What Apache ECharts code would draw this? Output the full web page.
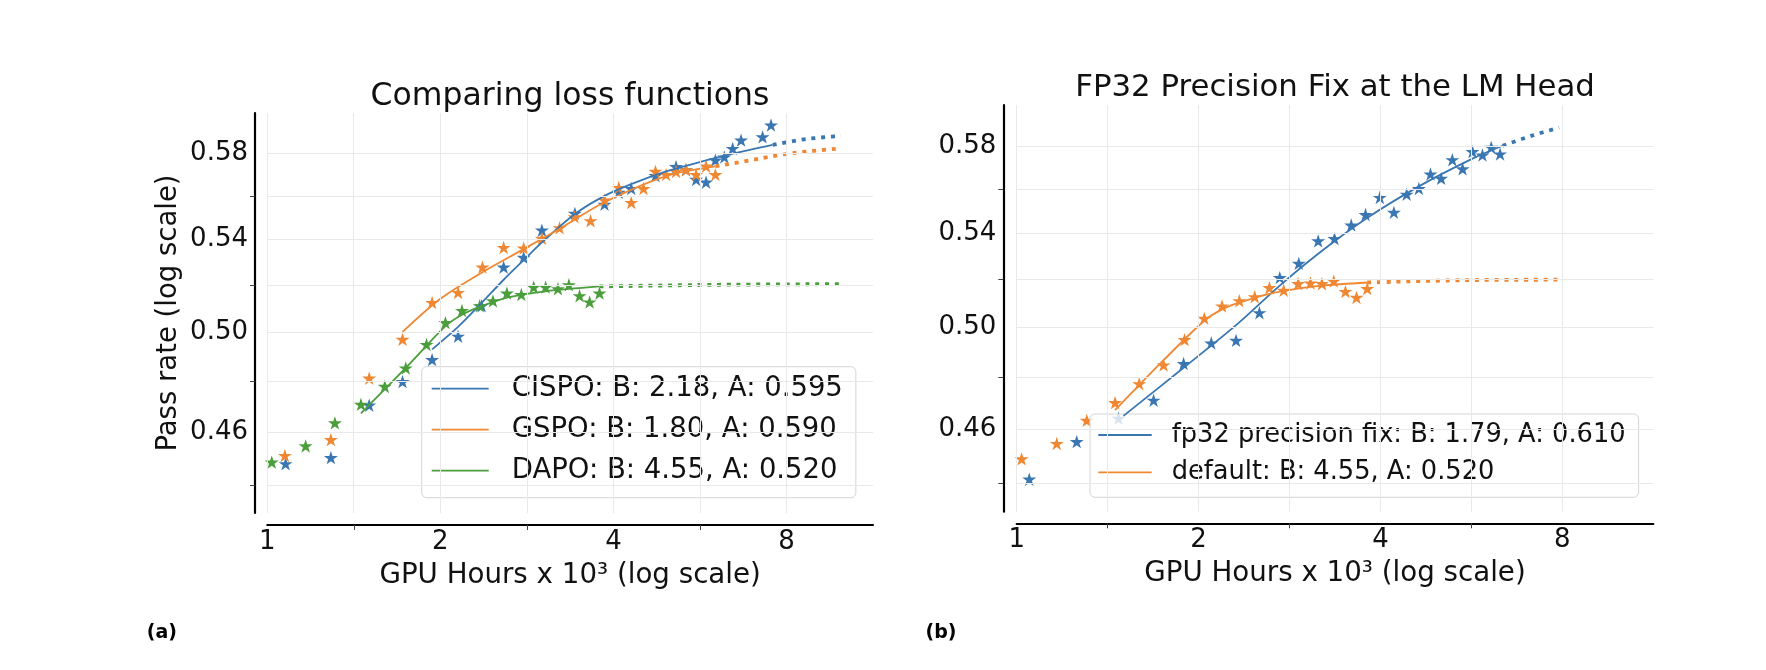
<!DOCTYPE html>
<html>
<head>
<meta charset="utf-8">
<script src="https://cdn.jsdelivr.net/npm/echarts@6/dist/echarts.min.js"></script>
<style>
  html, body { margin: 0; padding: 0; background: #ffffff; }
  #main { width: 1766px; height: 670px; }
</style>
</head>
<body>
<div id="main"></div>
<script>
// ---------------- data ----------------
// Panel (a): Comparing loss functions  — [GPU hours x 1e3, pass rate]
const cispoPoints = [[1.076,0.448],[1.290,0.4503],[1.504,0.4704],[1.719,0.4797],[1.935,0.4886],[2.147,0.4982],[2.359,0.5110],[2.577,0.5277],[2.792,0.5320],[3.004,0.5442],[3.428,0.5519],[3.86,0.5561],[4.087,0.5616],[4.296,0.5634],[4.734,0.5695],[5.14,0.5738],[5.35,0.5723],[5.571,0.5677],[5.797,0.5664],[6.018,0.5769],[6.237,0.5784],[6.449,0.5825],[6.67,0.5866],[7.27,0.5882],[7.52,0.594]];
const gspoPoints = [[1.073,0.4511],[1.290,0.4571],[1.504,0.4811],[1.719,0.4969],[1.935,0.5124],[2.147,0.5167],[2.367,0.5277],[2.577,0.5364],[2.792,0.5362],[3.004,0.5405],[3.224,0.5453],[3.424,0.5503],[3.65,0.5485],[3.86,0.558],[4.087,0.5639],[4.296,0.5569],[4.512,0.5634],[4.734,0.5715],[4.94,0.570],[5.14,0.5715],[5.35,0.5723],[5.571,0.570],[5.797,0.574],[6.018,0.570]];
const dapoPoints = [[1.018,0.4486],[1.166,0.4547],[1.311,0.4635],[1.455,0.4707],[1.601,0.4778],[1.741,0.4852],[1.892,0.4948],[2.041,0.5039],[2.181,0.509],[2.341,0.511],[2.469,0.5131],[2.611,0.5164],[2.766,0.5158],[2.906,0.519],[3.049,0.519],[3.203,0.5183],[3.347,0.520],[3.493,0.5153],[3.636,0.5126],[3.783,0.5164]];

const cispoFit = [[1.935,0.4928],[2.147,0.5021],[2.359,0.5122],[2.577,0.5222],[2.792,0.5308],[3.004,0.5387],[3.424,0.5515],[3.86,0.5600],[4.295,0.5655],[4.94,0.5715],[5.571,0.5755],[6.45,0.5800],[7.57,0.5843]];
const cispoExt = [[7.57,0.5843],[8.65,0.5871],[9.95,0.5887]];
const gspoFit = [[1.719,0.5000],[2.0,0.5140],[2.367,0.5255],[2.792,0.5357],[3.224,0.5449],[3.86,0.5570],[4.94,0.5693],[6.018,0.5739]];
const gspoExt = [[6.018,0.5739],[7.18,0.5776],[8.2,0.5803],[9.95,0.5826]];
const dapoFit = [[1.455,0.4672],[1.741,0.4852],[2.041,0.5024],[2.181,0.5072],[2.341,0.5105],[2.611,0.5145],[3.049,0.5172],[3.783,0.5193]];
const dapoExt = [[3.783,0.5193],[6.0,0.5200],[9.95,0.5203]];

// Panel (b): FP32 precision fix at the LM head
const fp32Points = [[1.049,0.4416],[1.257,0.4554],[1.474,0.4642],[1.685,0.4711],[1.889,0.4855],[2.099,0.4937],[2.307,0.4948],[2.522,0.5061],[2.725,0.5209],[2.93,0.527],[3.155,0.5368],[3.357,0.5378],[3.578,0.5438],[3.779,0.5485],[3.99,0.5562],[4.21,0.5495],[4.42,0.5577],[4.63,0.5603],[4.84,0.567],[5.04,0.565],[5.26,0.5737],[5.47,0.5694],[5.68,0.5775],[5.9,0.5759],[6.1,0.5795],[6.31,0.5764]];
const defaultPoints = [[1.019,0.449],[1.165,0.4547],[1.306,0.4634],[1.455,0.4702],[1.595,0.4775],[1.75,0.4849],[1.896,0.4951],[2.044,0.5038],[2.187,0.5089],[2.336,0.5111],[2.477,0.5128],[2.62,0.5166],[2.766,0.5155],[2.923,0.5183],[3.063,0.5186],[3.2,0.5183],[3.348,0.5194],[3.5,0.515],[3.651,0.5125],[3.803,0.5162]];

const fp32Fit = [[1.502,0.4651],[1.889,0.4838],[2.307,0.5010],[2.725,0.5175],[3.155,0.5312],[3.779,0.5465],[4.63,0.5613],[5.68,0.5742],[6.37,0.5803]];
const fp32Ext = [[6.37,0.5803],[7.1,0.5850],[7.9,0.5890]];
const defaultFit = [[1.455,0.4673],[1.75,0.4868],[2.044,0.5028],[2.187,0.5075],[2.336,0.5103],[2.62,0.5140],[2.923,0.5162],[3.2,0.5175],[3.803,0.5188]];
const defaultExt = [[3.803,0.5188],[5.5,0.5198],[7.85,0.5200]];

// legend labels
const namesA = ['CISPO: B: 2.18, A: 0.595', 'GSPO: B: 1.80, A: 0.590', 'DAPO: B: 4.55, A: 0.520'];
const namesB = ['fp32 precision fix: B: 1.79, A: 0.610', 'default: B: 4.55, A: 0.520'];

// axes ticks
const yTickValues = [0.46, 0.50, 0.54, 0.58];
const yMinorValues = [0.44, 0.48, 0.52, 0.56];
const yGridValues = [0.44, 0.46, 0.48, 0.50, 0.52, 0.54, 0.56, 0.58];
const xMinorValues = [1.4142, 2.8284, 5.6569];
const xGridValues = [1, 1.4142, 2, 2.8284, 4, 5.6569, 8];

const titles = ['Comparing loss functions', 'FP32 Precision Fix at the LM Head'];

// ---------------- styling ----------------
const BLUE = '#3a77b2', ORANGE = '#ef8733', GREEN = '#4b9e3c';
const FONT = 'DejaVu Sans';
const STAR = 'path://M0,-10L2.245,-3.09L9.511,-3.09L3.633,1.18L5.878,8.09L0,3.82L-5.878,8.09L-3.633,1.18L-9.511,-3.09L-2.245,-3.09Z';

function starSeries(name, pts, color, gi) {
  return { type: 'scatter', name: name, xAxisIndex: gi, yAxisIndex: gi, data: pts,
    symbol: STAR, symbolSize: [14, 13.4], itemStyle: { color: color, opacity: 1 }, z: 3, silent: true };
}
function fitSeries(name, pts, color, gi) {
  return { type: 'line', name: name, xAxisIndex: gi, yAxisIndex: gi, data: pts,
    symbol: 'none', smooth: 0.3, lineStyle: { color: color, width: 1.8 }, itemStyle: { color: color }, z: 4, silent: true };
}
function extSeries(name, pts, color, gi) {
  return { type: 'line', name: name, xAxisIndex: gi, yAxisIndex: gi, data: pts,
    symbol: 'none', smooth: 0.3, lineStyle: { color: color, width: 3.8, type: [4, 5.8], cap: 'butt' }, itemStyle: { color: color }, z: 4, silent: true };
}
function gridHelper(gi) {
  const lines = yGridValues.map(v => ({ yAxis: v })).concat(xGridValues.map(v => ({ xAxis: v })));
  return { type: 'line', name: 'grid' + gi, xAxisIndex: gi, yAxisIndex: gi, data: [], z: 1, silent: true,
    markLine: { silent: true, symbol: ['none', 'none'], label: { show: false }, animation: false,
      lineStyle: { color: '#e9e9e9', width: 1, type: 'solid' }, emphasis: { disabled: true }, data: lines } };
}

const grids = [
  { left: 267.3, top: 113, width: 605.7, height: 400 },
  { left: 1016.7, top: 105, width: 636.6, height: 406.7 }
];

function xAxisFor(gi, offset) {
  return { type: 'log', logBase: 2, gridIndex: gi, min: 1, max: 11.3137, offset: offset,
    axisLine: { show: true, lineStyle: { color: '#000', width: 2.2 } },
    axisTick: { show: true, customValues: xMinorValues, length: 5, lineStyle: { color: '#444', width: 1 } },
    axisLabel: { fontSize: 26, color: '#111', fontFamily: FONT, margin: 4, showMaxLabel: false,
      formatter: v => String(Math.round(v)) },
    splitLine: { show: false }, minorTick: { show: false },
    name: 'GPU Hours x 10³ (log scale)', nameLocation: 'middle', nameGap: 37,
    nameTextStyle: { fontSize: 27.7, color: '#111', fontFamily: FONT } };
}
function yAxisFor(gi, offset, withName) {
  const ax = { type: 'log', logBase: 10, gridIndex: gi, min: 0.43, max: 0.60, offset: offset,
    axisLine: { show: true, lineStyle: { color: '#000', width: 2.2 } },
    axisTick: { show: true, customValues: yMinorValues, length: 5, lineStyle: { color: '#444', width: 1 } },
    axisLabel: { customValues: yTickValues, fontSize: 26, color: '#111', fontFamily: FONT, margin: 7,
      formatter: v => Number(v).toFixed(2) },
    splitLine: { show: false } };
  if (withName) {
    ax.name = 'Pass rate (log scale)';
    ax.nameLocation = 'middle';
    ax.nameGap = 72;
    ax.nameRotate = 90;
    ax.nameTextStyle = { fontSize: 27.5, color: '#111', fontFamily: FONT };
  }
  return ax;
}

const option = {
  backgroundColor: '#ffffff',
  animation: false,
  textStyle: { fontFamily: FONT },
  grid: grids,
  xAxis: [xAxisFor(0, 12), xAxisFor(1, 11.6)],
  yAxis: [yAxisFor(0, 12.3, true), yAxisFor(1, 13.4, false)],
  legend: [
    { data: namesA, orient: 'vertical', left: 421.7, top: 366.7, icon: 'rect',
      backgroundColor: 'rgba(255,255,255,0.8)', borderColor: '#d4d4d4', borderWidth: 1, borderRadius: 5,
      padding: [7, 13, 12, 10], itemWidth: 57, itemHeight: 1.8, itemGap: 11, selectedMode: false,
      textStyle: { fontSize: 27.5, lineHeight: 30, color: '#111', fontFamily: FONT, padding: [0, 0, 0, 18] } },
    { data: namesB, orient: 'vertical', left: 1090, top: 414, icon: 'rect',
      backgroundColor: 'rgba(255,255,255,0.8)', borderColor: '#d4d4d4', borderWidth: 1, borderRadius: 5,
      padding: [7, 13, 11, 8.3], itemWidth: 53.4, itemHeight: 1.8, itemGap: 9.3, selectedMode: false,
      textStyle: { fontSize: 25.7, lineHeight: 28, color: '#111', fontFamily: FONT, padding: [0, 0, 0, 15] } }
  ],
  graphic: [
    { type: 'text', x: 570, y: 97, silent: true, style: { text: titles[0], fill: '#111', font: '31.5px "DejaVu Sans"', align: 'center', verticalAlign: 'middle' } },
    { type: 'text', x: 1335, y: 87.8, silent: true, style: { text: titles[1], fill: '#111', font: '30.8px "DejaVu Sans"', align: 'center', verticalAlign: 'middle' } },
    { type: 'text', x: 146.7, y: 633.5, silent: true, style: { text: '(a)', fill: '#000', font: 'bold 19px "DejaVu Sans"', align: 'left', verticalAlign: 'middle' } },
    { type: 'text', x: 925.5, y: 633.5, silent: true, style: { text: '(b)', fill: '#000', font: 'bold 19px "DejaVu Sans"', align: 'left', verticalAlign: 'middle' } }
  ],
  series: [
    gridHelper(0), gridHelper(1),
    starSeries('CISPO runs', cispoPoints, BLUE, 0),
    starSeries('GSPO runs', gspoPoints, ORANGE, 0),
    starSeries('DAPO runs', dapoPoints, GREEN, 0),
    fitSeries(namesA[0], cispoFit, BLUE, 0),
    fitSeries(namesA[1], gspoFit, ORANGE, 0),
    fitSeries(namesA[2], dapoFit, GREEN, 0),
    extSeries('CISPO extrapolation', cispoExt, BLUE, 0),
    extSeries('GSPO extrapolation', gspoExt, ORANGE, 0),
    extSeries('DAPO extrapolation', dapoExt, GREEN, 0),
    starSeries('fp32 runs', fp32Points, BLUE, 1),
    starSeries('default runs', defaultPoints, ORANGE, 1),
    fitSeries(namesB[0], fp32Fit, BLUE, 1),
    fitSeries(namesB[1], defaultFit, ORANGE, 1),
    extSeries('fp32 extrapolation', fp32Ext, BLUE, 1),
    extSeries('default extrapolation', defaultExt, ORANGE, 1)
  ]
};

const chart = echarts.init(document.getElementById('main'), null, { renderer: 'canvas', width: 1766, height: 670 });
chart.setOption(option);
</script>
</body>
</html>
